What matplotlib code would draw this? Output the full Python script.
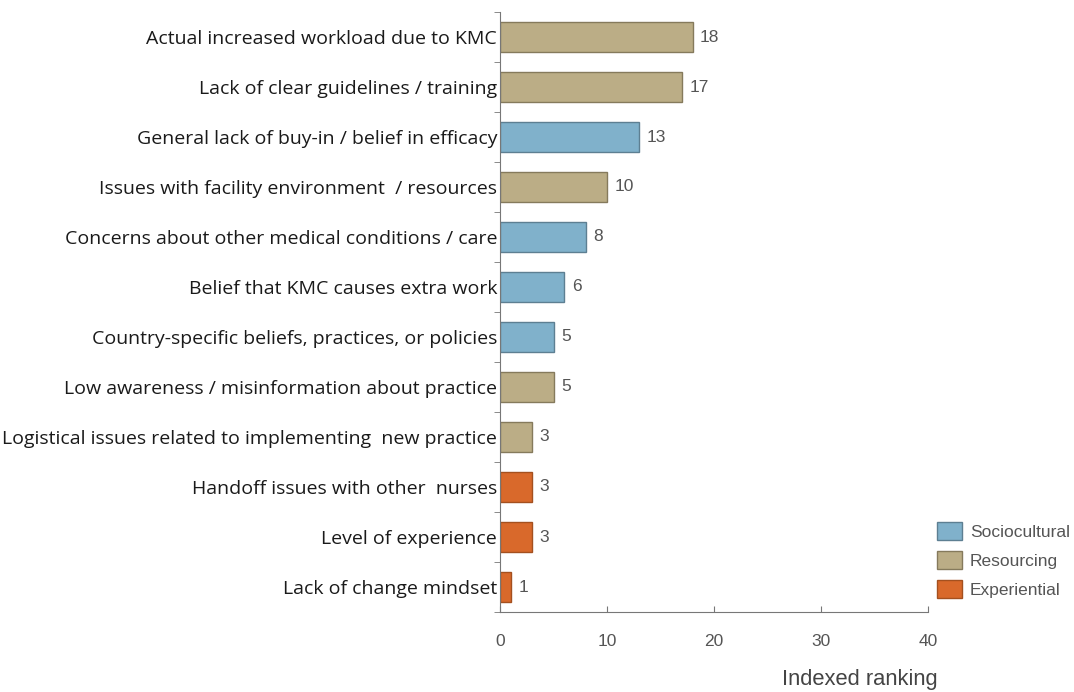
import matplotlib
matplotlib.use("Agg")
import matplotlib.pyplot as plt
from matplotlib.patches import Patch

# top to bottom, as in the figure
labels = [
    "Actual increased workload due to KMC",
    "Lack of clear guidelines / training",
    "General lack of buy-in / belief in efficacy",
    "Issues with facility environment  / resources",
    "Concerns about other medical conditions / care",
    "Belief that KMC causes extra work",
    "Country-specific beliefs, practices, or policies",
    "Low awareness / misinformation about practice",
    "Logistical issues related to implementing  new practice",
    "Handoff issues with other  nurses",
    "Level of experience",
    "Lack of change mindset",
]
values = [18, 17, 13, 10, 8, 6, 5, 5, 3, 3, 3, 1]
groups = ["Resourcing", "Resourcing", "Sociocultural", "Resourcing", "Sociocultural",
          "Sociocultural", "Sociocultural", "Resourcing", "Resourcing",
          "Experiential", "Experiential", "Experiential"]
group_order = ["Sociocultural", "Resourcing", "Experiential"]
colors = {"Sociocultural": "#80b1cb", "Resourcing": "#bbad86", "Experiential": "#d9692b"}
edges = {"Sociocultural": "#5d7f92", "Resourcing": "#857a5c", "Experiential": "#a4501f"}

fig = plt.figure(figsize=(10.74, 6.92), dpi=100)
ax = fig.add_axes([500 / 1074, 1 - 612 / 692, 428 / 1074, 600 / 692])

n = len(labels)
ys = [n - 1 - i for i in range(n)]
ax.barh(ys, values, height=0.6,
        color=[colors[g] for g in groups],
        edgecolor=[edges[g] for g in groups], linewidth=1.0)
for y, v in zip(ys, values):
    ax.text(v + 0.7, y, str(v), va="center", ha="left", fontsize=12.5,
            color="#555555", family="Liberation Sans")

ax.set_xlim(0, 40)
ax.set_ylim(-0.5, n - 0.5)
ax.set_xticks([0, 10, 20, 30, 40])
ax.tick_params(axis="x", direction="in", length=4, colors="#777777",
               labelcolor="#555555", labelsize=12.5, pad=16)
for t in ax.get_xticklabels():
    t.set_family("Liberation Sans")

ax.set_yticks(ys)
ax.set_yticklabels(labels, fontsize=14, family="Open Sans", color="#1a1a1a")
ax.tick_params(axis="y", which="major", length=0, pad=2)
ax.set_yticks([k + 0.5 for k in range(-1, n)], minor=True)
ax.tick_params(axis="y", which="minor", length=4, direction="out", color="#777777")

for side in ["top", "right"]:
    ax.spines[side].set_visible(False)
for side in ["left", "bottom"]:
    ax.spines[side].set_color("#777777")

fig.text(938 / 1074, 1 - 680 / 692, "Indexed ranking", ha="right", va="center",
         fontsize=15.8, color="#444444", family="Liberation Sans")

handles = [Patch(facecolor=colors[g], edgecolor=edges[g], label=g) for g in group_order]
fig.legend(handles=handles, loc="upper left", bbox_to_anchor=(937 / 1074, 1 - 522 / 692),
           frameon=False, borderpad=0, borderaxespad=0,
           handlelength=1.45, handleheight=1.2,
           labelspacing=0.65, handletextpad=0.45, labelcolor="#555555",
           prop={"family": "Liberation Sans", "size": 12.5})

fig.savefig("out.png", dpi=100)
